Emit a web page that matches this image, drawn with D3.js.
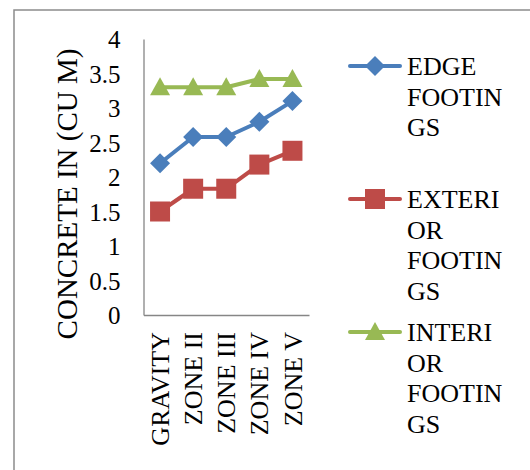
<!DOCTYPE html>
<html><head><meta charset="utf-8">
<script src="https://cdn.jsdelivr.net/npm/d3@7"></script>
<style>body{margin:0;background:#fff}svg{display:block}
text{font-family:"Liberation Serif","Times New Roman",Tinos,"DejaVu Serif",serif !important}</style>
</head><body>
<svg id="c" width="530" height="470"></svg>
<script>
const categories = ["GRAVITY","ZONE II","ZONE III","ZONE IV","ZONE V"];
const edgeFootings = [2.2, 2.58, 2.58, 2.8, 3.1];
const exteriorFootings = [1.5, 1.83, 1.83, 2.18, 2.38];
const interiorFootings = [3.3, 3.3, 3.3, 3.42, 3.42];
const yTicks = [0, 0.5, 1, 1.5, 2, 2.5, 3, 3.5, 4];
const seriesNames = [["EDGE","FOOTIN","GS"],["EXTERI","OR","FOOTIN","GS"],["INTERI","OR","FOOTIN","GS"]];
const yTitle = "CONCRETE IN (CU M)";

const series = [
  {values: edgeFootings, color:"#4A7EBB", marker:"diamond", label: seriesNames[0]},
  {values: exteriorFootings, color:"#BE4B48", marker:"square", label: seriesNames[1]},
  {values: interiorFootings, color:"#98B954", marker:"triangle", label: seriesNames[2]}
];

const svg = d3.select("#c");

svg.append("rect").attr("x",14).attr("y",10).attr("width",530).attr("height",480)
  .attr("fill","none").attr("stroke","#8c8c8c").attr("stroke-width",1.5);

const x = d3.scaleBand().domain(categories).range([143.5,309]);
const y = d3.scaleLinear().domain([0,4]).range([315,39]);

const g = svg.append("g");
const yAxis = g.append("g").attr("transform","translate(143.5,0)")
  .call(d3.axisLeft(y).tickValues(yTicks).tickSize(0).tickPadding(0).tickFormat(d=>String(d)));
yAxis.select(".domain").attr("stroke","#868686").attr("stroke-width",1.3);
yAxis.selectAll("text").attr("x",-23).attr("dy","0.35em").style("font-size","25px").attr("fill","#000");

const xAxis = g.append("g").attr("transform","translate(0,315)")
  .call(d3.axisBottom(x).tickSize(0).tickPadding(0));
xAxis.select(".domain").attr("stroke","#868686").attr("stroke-width",1.3);
xAxis.selectAll("text")
  .attr("transform","rotate(-90)")
  .attr("x",-17).attr("y",0).attr("dy","0.35em")
  .attr("text-anchor","end")
  .style("font-size","26px").attr("fill","#000");

svg.append("text").attr("transform","translate(77,194) rotate(-90)")
  .attr("text-anchor","middle").style("font-size","29px")
  .text(yTitle);

const cx = d => x(d) + x.bandwidth()/2;
function marker(sel, type, color){
  if(type==="diamond"){
    sel.append("path").attr("d","M0,-10L10,0L0,10L-10,0Z").attr("fill",color);
  } else if(type==="square"){
    sel.append("rect").attr("x",-10).attr("y",-10).attr("width",20).attr("height",20).attr("fill",color);
  } else {
    sel.append("path").attr("d","M0,-10L10,8L-10,8Z").attr("fill",color);
  }
}
const line = d3.line().x((d,i)=>cx(categories[i])).y(d=>y(d));
series.forEach(s=>{
  g.append("path").datum(s.values).attr("d",line).attr("fill","none")
    .attr("stroke",s.color).attr("stroke-width",4).attr("stroke-linejoin","round");
  s.values.forEach((v,i)=>{
    const m = g.append("g").attr("transform",`translate(${cx(categories[i])},${y(v)})`);
    marker(m, s.marker, s.color);
  });
});

const legendY = [66, 199, 332];
series.forEach((s,k)=>{
  const ly = legendY[k];
  svg.append("line").attr("x1",350).attr("x2",400).attr("y1",ly).attr("y2",ly)
    .attr("stroke",s.color).attr("stroke-width",4).attr("stroke-linecap","round");
  const m = svg.append("g").attr("transform",`translate(375,${ly})`);
  marker(m, s.marker, s.color);
  const t = svg.append("text").style("font-size","26px").attr("fill","#000");
  s.label.forEach((ln,j)=>{
    t.append("tspan").attr("x",407).attr("y",ly + j*30.5).attr("dy","0.35em").text(ln);
  });
});
</script>
</body></html>
